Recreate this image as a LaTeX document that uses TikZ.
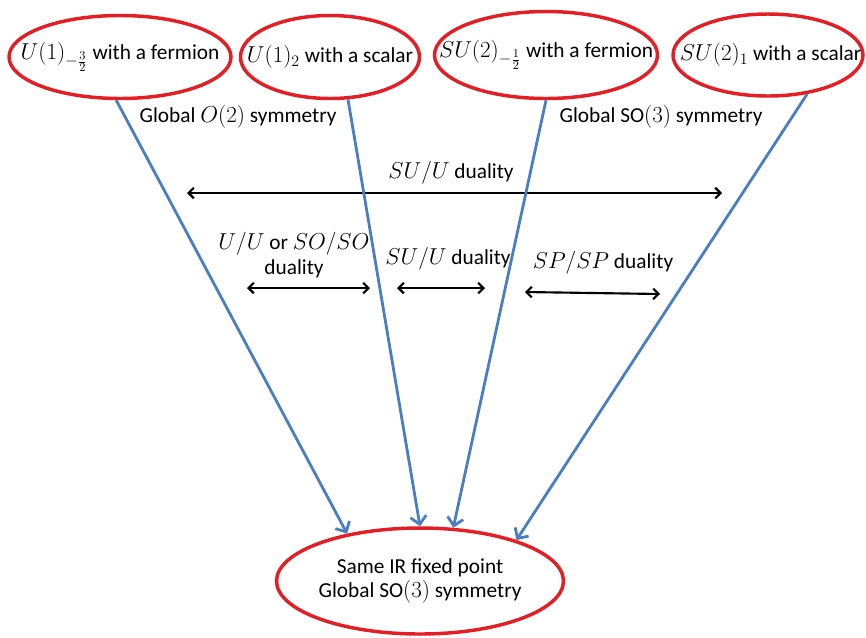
\documentclass[tikz,border=0pt]{standalone}
\usepackage{fontspec}
\setmainfont{Carlito}
\usetikzlibrary{shapes.geometric,arrows.meta}

\definecolor{ovalred}{RGB}{227,30,36}
\definecolor{flowblue}{RGB}{74,126,193}

\newcommand{\mth}[1]{{\fontsize{17.5}{20}\selectfont$#1$}}

\tikzstyle{theory} = [draw, ellipse, inner sep=0pt, line width=2.6pt]
\tikzstyle{flow} = [-{Straight Barb[length=6pt,width=12pt]}, line width=2.1pt]
\tikzstyle{dual} = [{Straight Barb[length=4pt,width=8pt]}-{Straight Barb[length=4pt,width=8pt]}, line width=1.6pt]

\begin{document}
\begin{tikzpicture}[x=0.75pt, y=-0.75pt, font=\fontsize{16}{18.5}\selectfont]

\def\colT{ovalred}
\def\colF{flowblue}

\useasboundingbox (0,0) rectangle (866,637);

% UV theories
\node at (120,57)[theory,draw=\colT,
               minimum width=166.5pt,minimum height=62.25pt,
               label={center:\mth{U(1)_{-\frac{3}{2}}} with a fermion}]
               (UF) {};

\node at (330,57)[theory,draw=\colT,
               minimum width=134.25pt,minimum height=62.25pt,
               label={center:\mth{U(1)_2} with a scalar}]
               (US) {};

\node at (546,55)[theory,draw=\colT,
               minimum width=167.25pt,minimum height=65.25pt,
               label={center:\mth{SU(2)_{-\frac{1}{2}}} with a fermion}]
               (SF) {};

\node at (768,55)[theory,draw=\colT,
               minimum width=142.5pt,minimum height=61.5pt,
               label={[xshift=2pt]center:\mth{SU(2)_1} with a scalar}]
               (SS) {};

% IR fixed point
\node at (420,581)[theory,draw=\colT,align=center,
               minimum width=189.75pt,minimum height=79.5pt]
               (IR) {Same IR fixed point\\Global SO$(3)$ symmetry};

\node at (238,117) (GO) {Global \mth{O(2)} symmetry};
\node at (661,117) (GS) {Global SO$(3)$ symmetry};

% dualities
\coordinate (LA) at (187,193);
\coordinate (LB) at (722,193);
\node at (451,173) (LL) {\mth{SU/U} duality};

\coordinate (AA) at (247,288);
\coordinate (AB) at (370,288);
\node at (294,255)[align=center] (AL) {\mth{U/U} or \mth{SO/SO}\\duality};

\coordinate (BA) at (397,288);
\coordinate (BB) at (485,288);
\node at (448,259) (BL) {\mth{SU/U} duality};

\coordinate (CA) at (525,292);
\coordinate (CB) at (660,294);
\node at (603,263) (CL) {\mth{SP/SP} duality};

\draw[dual] (LA) -- (LB);
\draw[dual] (AA) -- (AB);
\draw[dual] (BA) -- (BB);
\draw[dual] (CA) -- (CB);

% flows to the IR
\draw[flow,\colF] (UF.265) -- (IR.147);
\draw[flow,\colF] (US.293) -- (IR.90);
\draw[flow,\colF] (SF.270) -- (IR.58);
\draw[flow,\colF] (SS.315) -- (IR.23);

\end{tikzpicture}
\end{document}
